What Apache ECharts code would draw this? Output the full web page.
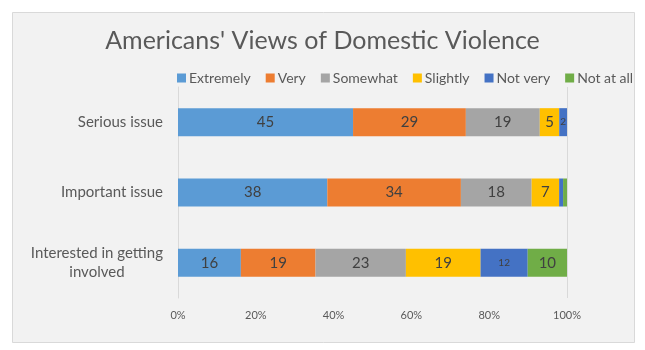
<!DOCTYPE html>
<html>
<head>
<meta charset="utf-8">
<script src="https://cdn.jsdelivr.net/npm/echarts@6/dist/echarts.min.js"></script>
<style>
  html, body { margin: 0; padding: 0; background: #fff; }
  #chart { width: 645px; height: 350px; }
</style>
</head>
<body>
<div id="chart"></div>
<script>
// rows, top to bottom
const categories = ["Serious issue", "Important issue", "Interested in getting involved"];
const levels = ["Extremely", "Very", "Somewhat", "Slightly", "Not very", "Not at all"];
const colors = ["#5b9bd5", "#ed7d31", "#a5a5a5", "#ffc000", "#4472c4", "#70ad47"];

// values per level, one per row (same order as categories)
const extremely = [45, 38, 16];
const very = [29, 34, 19];
const somewhat = [19, 18, 23];
const slightly = [5, 7, 19];
const notVery = [2, 1, 12];
const notAtAll = [0, 1, 10];

const xTicks = [0, 20, 40, 60, 80, 100];

const seriesValues = [extremely, very, somewhat, slightly, notVery, notAtAll];
const rowTotals = categories.map((c, i) => seriesValues.reduce((s, arr) => s + arr[i], 0));

const font = "Lato, 'Open Sans', sans-serif";
const chart = echarts.init(document.getElementById("chart"));

const series = levels.map((name, k) => ({
  name,
  type: "bar",
  stack: "total",
  barWidth: 28,
  itemStyle: { color: colors[k] },
  label: {
    show: true,
    color: "#404040",
    fontFamily: font,
    formatter: p => {
      const v = seriesValues[k][p.dataIndex];
      if (v < 2) return "";
      // the narrow "Not very" cells carry a smaller label
      return k === 4 ? "{s|" + v + "}" : String(v);
    },
    fontSize: 15,
    rich: { s: { fontSize: 10, color: "#404040", fontFamily: font } }
  },
  data: seriesValues[k].map((v, i) => (v / rowTotals[i]) * 100)
}));

chart.setOption({
  animation: false,
  backgroundColor: "#fff",
  graphic: [{
    type: "rect",
    z: -10,
    shape: { x: 12.5, y: 12.5, width: 622, height: 330 },
    style: { fill: "#f2f2f2", stroke: "#d9d9d9", lineWidth: 1 }
  }],
  title: {
    text: "Americans' Views of Domestic Violence",
    left: "center",
    top: 23,
    textStyle: { fontFamily: font, fontSize: 25, fontWeight: "normal", color: "#595959" }
  },
  legend: {
    left: 172,
    top: 66,
    itemWidth: 9,
    itemHeight: 9,
    itemGap: 15,
    icon: "rect",
    textStyle: { fontFamily: font, fontSize: 14, color: "#595959", padding: [0, 0, 0, -2] },
    data: levels
  },
  grid: { left: 178, right: 78, top: 87, bottom: 52, containLabel: false },
  xAxis: {
    type: "value",
    min: 0,
    max: 100,
    interval: 20,
    axisLine: { show: false },
    axisTick: { show: false },
    splitLine: {
      show: true,
      lineStyle: { color: ["#d9d9d9", "transparent", "transparent", "transparent", "transparent", "#d9d9d9"] }
    },
    axisLabel: {
      margin: 12,
      fontFamily: font,
      fontSize: 11,
      color: "#595959",
      formatter: v => (xTicks.includes(v) ? v + "%" : "")
    }
  },
  yAxis: {
    type: "category",
    inverse: true,
    data: categories,
    axisLine: { show: true, lineStyle: { color: "#d9d9d9" } },
    axisTick: { show: false },
    axisLabel: {
      margin: 15,
      fontFamily: font,
      fontSize: 15,
      color: "#595959",
      formatter: v => v === "Interested in getting involved"
        ? "{c|Interested in getting}\n{c|involved}"
        : v,
      rich: { c: { align: "center", fontFamily: font, fontSize: 15, color: "#595959", lineHeight: 19 } }
    }
  },
  series
});
</script>
</body>
</html>
